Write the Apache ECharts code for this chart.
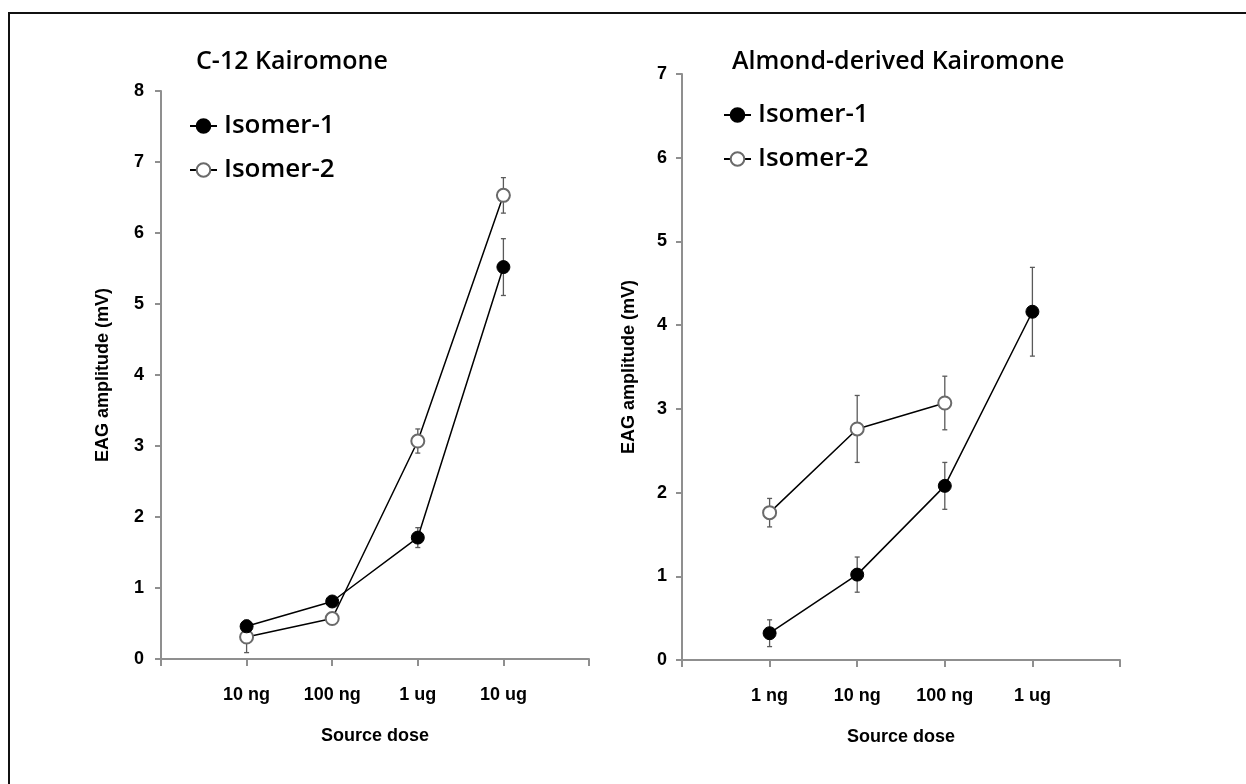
<!DOCTYPE html>
<html>
<head>
<meta charset="utf-8">
<script src="https://cdn.jsdelivr.net/npm/echarts@6/dist/echarts.min.js"></script>
<style>
  html, body { margin: 0; padding: 0; background: #fff; overflow: hidden; }
  #frame { position: absolute; left: 8px; top: 12px; width: 1300px; height: 900px;
           border-left: 2px solid #111; border-top: 2px solid #111; }
  #chart { position: absolute; left: 0; top: 0; width: 1246px; height: 784px; }
</style>
</head>
<body>
<div id="frame"></div>
<div id="chart"></div>
<script>
// ---- data ----
const leftTitle = 'C-12 Kairomone';
const rightTitle = 'Almond-derived Kairomone';
const leftCategories = ['10 ng', '100 ng', '1 ug', '10 ug'];
const rightCategories = ['1 ng', '10 ng', '100 ng', '1 ug'];
const leftYTicks = [0, 1, 2, 3, 4, 5, 6, 7, 8];
const rightYTicks = [0, 1, 2, 3, 4, 5, 6, 7];

const c12Isomer1 = [0.46, 0.81, 1.71, 5.52];
const c12Isomer1Err = [0.09, 0.04, 0.14, 0.40];
const c12Isomer2 = [0.31, 0.57, 3.07, 6.53];
const c12Isomer2Err = [0.22, 0.03, 0.17, 0.25];

const almondIsomer1 = [0.32, 1.02, 2.08, 4.16];
const almondIsomer1Err = [0.16, 0.21, 0.28, 0.53];
const almondIsomer2 = [1.76, 2.76, 3.07];
const almondIsomer2Err = [0.17, 0.40, 0.32];

// ---- helpers ----
const pts = (vals) => vals.map((v, i) => [i + 1, v]);
const errPts = (vals, errs) => vals.map((v, i) => [i + 1, v, errs[i]]);

const FONT_CAL = '"Open Sans", "Noto Sans", sans-serif';
const FONT_AR = '"Liberation Sans", Arial, sans-serif';
const AXIS_GRAY = '#8f8f8f';

function xAxisFor(gridIndex, cats) {
  return {
    gridIndex, type: 'value', min: 0, max: cats.length + 1, interval: 1,
    name: 'Source dose', nameLocation: 'middle', nameGap: 68,
    nameTextStyle: { fontFamily: FONT_AR, fontWeight: 'bold', fontSize: 18, color: '#000' },
    axisLine: { show: true, lineStyle: { color: AXIS_GRAY, width: 2 } },
    axisTick: { show: true, length: 7, lineStyle: { color: AXIS_GRAY, width: 2 } },
    splitLine: { show: false },
    axisLabel: {
      margin: 27, fontFamily: FONT_AR, fontWeight: 'bold', fontSize: 18, color: '#000',
      formatter: (v) => cats[v - 1] || ''
    }
  };
}
function yAxisFor(gridIndex, ticks, gap, margin) {
  return {
    gridIndex, type: 'value', min: ticks[0], max: ticks[ticks.length - 1], interval: 1,
    name: 'EAG amplitude (mV)', nameLocation: 'middle', nameGap: gap,
    nameTextStyle: { fontFamily: FONT_AR, fontWeight: 'bold', fontSize: 18, color: '#000' },
    axisLine: { show: true, lineStyle: { color: AXIS_GRAY, width: 2 } },
    axisTick: { show: true, length: 6, lineStyle: { color: AXIS_GRAY, width: 2 } },
    splitLine: { show: false },
    axisLabel: { margin: margin, fontFamily: FONT_AR, fontWeight: 'bold', fontSize: 18, color: '#000' }
  };
}
function errorSeries(idx, data) {
  return {
    type: 'custom', xAxisIndex: idx, yAxisIndex: idx, z: 1, silent: true,
    data: data,
    renderItem: function (params, api) {
      const x = api.value(0), y = api.value(1), e = api.value(2);
      const top = api.coord([x, y + e]);
      const bot = api.coord([x, y - e]);
      const st = { stroke: '#5a5a5a', lineWidth: 1.3 };
      return {
        type: 'group', children: [
          { type: 'line', shape: { x1: top[0], y1: top[1], x2: bot[0], y2: bot[1] }, style: st },
          { type: 'line', shape: { x1: top[0] - 2.5, y1: top[1], x2: top[0] + 2.5, y2: top[1] }, style: st },
          { type: 'line', shape: { x1: bot[0] - 2.5, y1: bot[1], x2: bot[0] + 2.5, y2: bot[1] }, style: st }
        ]
      };
    }
  };
}
function filledSeries(idx, data) {
  return {
    name: 'Isomer-1', type: 'line', xAxisIndex: idx, yAxisIndex: idx, z: 3,
    data: data, symbol: 'circle', symbolSize: 13,
    lineStyle: { color: '#000', width: 1.5 },
    itemStyle: { color: '#000', borderColor: '#000', borderWidth: 1 },
    emphasis: { disabled: true }
  };
}
function openSeries(idx, data) {
  return {
    name: 'Isomer-2', type: 'line', xAxisIndex: idx, yAxisIndex: idx, z: 2,
    data: data, symbol: 'emptyCircle', symbolSize: 13,
    lineStyle: { color: '#000', width: 1.5 },
    itemStyle: { color: '#6a6a6a', borderWidth: 1.2 },
    emphasis: { disabled: true }
  };
}
function legendAt(left, top) {
  return {
    orient: 'vertical', left: left, top: top, itemWidth: 27, itemHeight: 17, itemGap: 12,
    selectedMode: false,
    data: ['Isomer-1', 'Isomer-2'],
    textStyle: { fontFamily: FONT_CAL, fontSize: 26, fontWeight: 600, color: '#000', lineHeight: 32, padding: [0, 0, 0, 2] }
  };
}

const chart = echarts.init(document.getElementById('chart'), null, { renderer: 'canvas' });
chart.setOption({
  animation: false,
  backgroundColor: 'transparent',
  title: [
    { text: leftTitle, left: 191, top: 44, textStyle: { fontFamily: FONT_CAL, fontSize: 25, fontWeight: 600, color: '#000' } },
    { text: rightTitle, left: 727, top: 44, textStyle: { fontFamily: FONT_CAL, fontSize: 25, fontWeight: 600, color: '#000' } }
  ],
  legend: [legendAt(184, 105), legendAt(718, 94)],
  grid: [
    { left: 161, top: 91, width: 428, height: 568 },
    { left: 682, top: 74, width: 438, height: 586 }
  ],
  xAxis: [xAxisFor(0, leftCategories), xAxisFor(1, rightCategories)],
  yAxis: [yAxisFor(0, leftYTicks, 49, 17), yAxisFor(1, rightYTicks, 44, 15)],
  series: [
    errorSeries(0, errPts(c12Isomer1, c12Isomer1Err)),
    errorSeries(0, errPts(c12Isomer2, c12Isomer2Err)),
    openSeries(0, pts(c12Isomer2)),
    filledSeries(0, pts(c12Isomer1)),
    errorSeries(1, errPts(almondIsomer1, almondIsomer1Err)),
    errorSeries(1, errPts(almondIsomer2, almondIsomer2Err)),
    openSeries(1, pts(almondIsomer2)),
    filledSeries(1, pts(almondIsomer1))
  ]
});
</script>
</body>
</html>
